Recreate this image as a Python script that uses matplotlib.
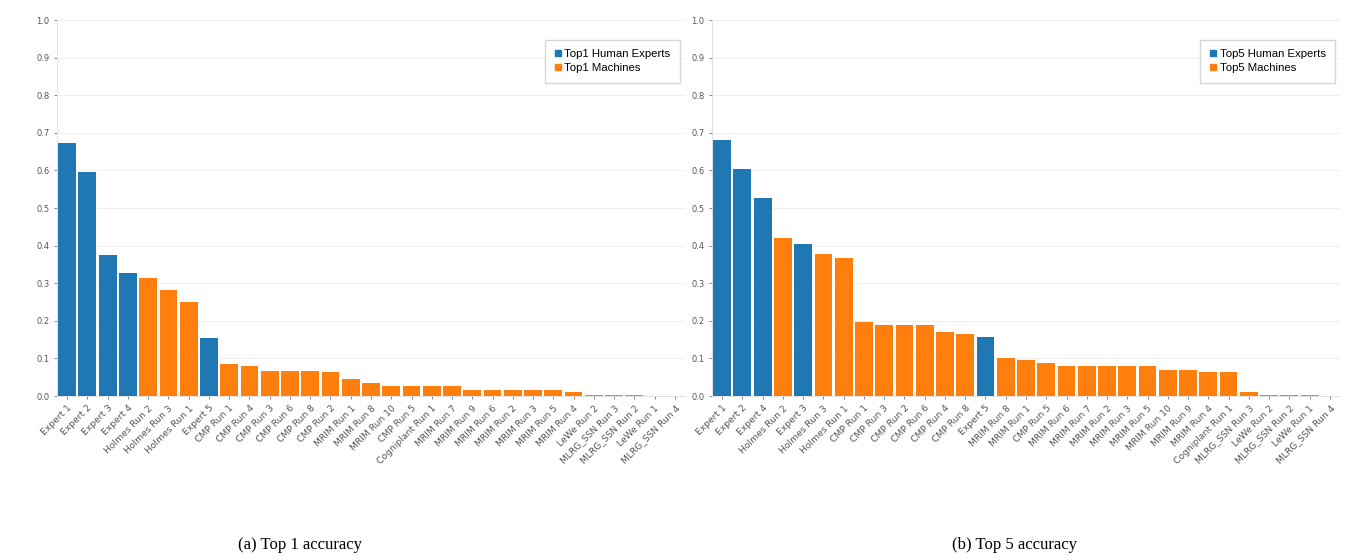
import matplotlib
matplotlib.use("Agg")
import matplotlib.pyplot as plt
from matplotlib.lines import Line2D

# ---- data ----
top1_labels = ["Expert 1", "Expert 2", "Expert 3", "Expert 4", "Holmes Run 2", "Holmes Run 3",
               "Holmes Run 1", "Expert 5", "CMP Run 1", "CMP Run 4", "CMP Run 3", "CMP Run 6",
               "CMP Run 8", "CMP Run 2", "MRIM Run 1", "MRIM Run 8", "MRIM Run 10", "CMP Run 5",
               "Cogniplant Run 1", "MRIM Run 7", "MRIM Run 9", "MRIM Run 6", "MRIM Run 2",
               "MRIM Run 3", "MRIM Run 5", "MRIM Run 4", "LeWe Run 2", "MLRG_SSN Run 3",
               "MLRG_SSN Run 2", "LeWe Run 1", "MLRG_SSN Run 4"]
top1_values = [0.672, 0.597, 0.375, 0.326, 0.315, 0.282, 0.249, 0.155, 0.085, 0.080, 0.067, 0.067,
               0.067, 0.063, 0.044, 0.034, 0.027, 0.027, 0.027, 0.027, 0.016, 0.016, 0.016, 0.016,
               0.016, 0.011, 0.003, 0.002, 0.002, 0.001, 0.001]
top1_is_expert = [True, True, True, True, False, False, False, True] + [False] * 23

top5_labels = ["Expert 1", "Expert 2", "Expert 4", "Holmes Run 2", "Expert 3", "Holmes Run 3",
               "Holmes Run 1", "CMP Run 1", "CMP Run 3", "CMP Run 2", "CMP Run 6", "CMP Run 4",
               "CMP Run 8", "Expert 5", "MRIM Run 8", "MRIM Run 1", "CMP Run 5", "MRIM Run 6",
               "MRIM Run 7", "MRIM Run 2", "MRIM Run 3", "MRIM Run 5", "MRIM Run 10", "MRIM Run 9",
               "MRIM Run 4", "Cogniplant Run 1", "MLRG_SSN Run 3", "LeWe Run 2", "MLRG_SSN Run 2",
               "LeWe Run 1", "MLRG_SSN Run 4"]
top5_values = [0.681, 0.604, 0.527, 0.419, 0.403, 0.377, 0.368, 0.198, 0.188, 0.188, 0.188, 0.171,
               0.164, 0.156, 0.102, 0.096, 0.087, 0.080, 0.080, 0.080, 0.080, 0.080, 0.069, 0.069,
               0.065, 0.065, 0.010, 0.003, 0.002, 0.002, 0.001]
top5_is_expert = [True, True, True, False, True, False, False, False, False, False, False, False,
                  False, True] + [False] * 17

BLUE = "#1f77b4"
ORANGE = "#ff7f0e"

fig = plt.figure(figsize=(13.62, 5.6), dpi=100)
ax1 = fig.add_axes([57 / 1362, 1 - 396 / 560, 628 / 1362, 376 / 560])
ax2 = fig.add_axes([712 / 1362, 1 - 396 / 560, 628 / 1362, 376 / 560])


def draw(ax, labels, values, is_exp, prefix):
    x = list(range(len(labels)))
    colors = [BLUE if e else ORANGE for e in is_exp]
    ax.bar(x, values, width=0.88, color=colors, zorder=3)
    ax.set_xlim(-0.5, len(labels) - 0.5)
    ax.set_ylim(0, 1.0)
    ax.set_yticks([i / 10 for i in range(11)])
    ax.set_yticklabels([f"{i / 10:.1f}" for i in range(11)], fontsize=6, color="#333333")
    ax.set_xticks(x)
    ax.set_xticklabels(labels, rotation=45, ha="right", rotation_mode="anchor",
                       fontsize=6.6, color="#333333")
    ax.tick_params(axis="both", length=2.5, width=0.5, colors="#555555", pad=3)
    ax.grid(axis="y", color="#f0f0f0", linewidth=0.8, zorder=0)
    for side in ["top", "right"]:
        ax.spines[side].set_visible(False)
    for side in ["left", "bottom"]:
        ax.spines[side].set_color("#dddddd")
        ax.spines[side].set_linewidth(0.6)
    handles = [Line2D([], [], marker="s", linestyle="", color=BLUE, markersize=5),
               Line2D([], [], marker="s", linestyle="", color=ORANGE, markersize=5)]
    ax.legend(handles, [f"{prefix} Human Experts", f"{prefix} Machines"], loc="upper right",
              bbox_to_anchor=(0.997, 0.955), prop={"family": "Liberation Sans", "size": 8.2},
              frameon=True, handletextpad=0.25, borderpad=0.8, labelspacing=0.35,
              fancybox=False, edgecolor="#cccccc", handlelength=0.7, borderaxespad=0.3)


draw(ax1, top1_labels, top1_values, top1_is_expert, "Top1")
draw(ax2, top5_labels, top5_values, top5_is_expert, "Top5")

fig.text(300 / 1362, 1 - 545 / 560, "(a) Top 1 accuracy", ha="center", va="center",
         fontsize=12, family="Liberation Serif")
fig.text(1015 / 1362, 1 - 545 / 560, "(b) Top 5 accuracy", ha="center", va="center",
         fontsize=12, family="Liberation Serif")

fig.savefig("out.png", dpi=100, facecolor="white")
